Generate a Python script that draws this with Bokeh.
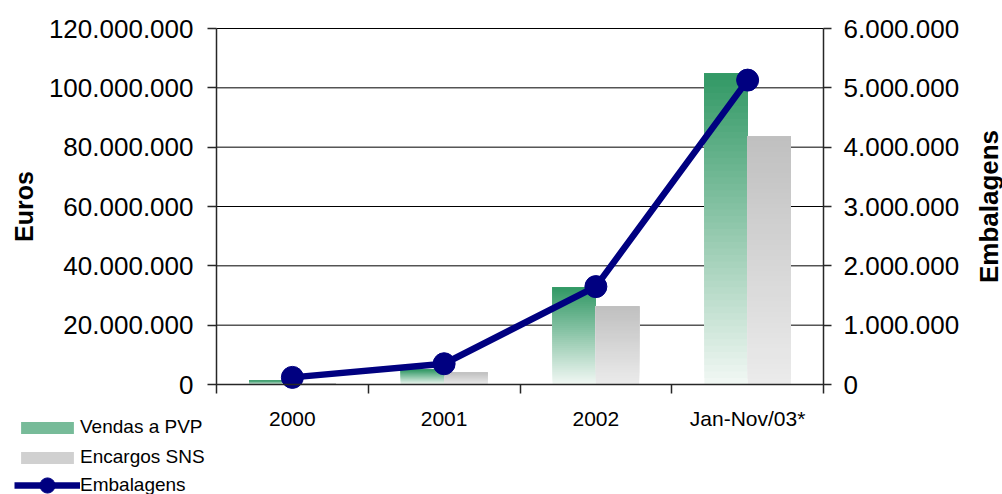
import math
from bokeh.plotting import figure
from bokeh.models import (Range1d, LinearAxis, FixedTicker, ColumnDataSource,
                          Legend, LegendItem, Label)
from bokeh.embed import file_html
from bokeh.resources import INLINE

# ---------------- data ----------------
categories = ["2000", "2001", "2002", "Jan-Nov/03*"]
vendas_pvp = [1.3e6, 5.0e6, 32.7e6, 104.8e6]       # Euros (left axis)
encargos_sns = [0.5e6, 4.0e6, 26.3e6, 83.6e6]      # Euros (left axis)
embalagens = [0.12e6, 0.35e6, 1.65e6, 5.13e6]      # Embalagens (right axis)

euro_ticks = [0, 20e6, 40e6, 60e6, 80e6, 100e6, 120e6]
euro_labels = ["0", "20.000.000", "40.000.000", "60.000.000",
               "80.000.000", "100.000.000", "120.000.000"]
emb_ticks = [0, 1e6, 2e6, 3e6, 4e6, 5e6, 6e6]
emb_labels = ["0", "1.000.000", "2.000.000", "3.000.000",
              "4.000.000", "5.000.000", "6.000.000"]

# ---------------- layout / styles ----------------
W, H = 1002, 494
PLOT_L, PLOT_R, PLOT_T, PLOT_B = 216, 823, 28, 384   # plotting area in canvas px
FONT = "Liberation Sans"
GREEN_TOP, GREEN_BOT = (51, 153, 102), (240, 247, 243)
GRAY_TOP, GRAY_BOT = (192, 192, 192), (235, 235, 235)
NAVY = "#000080"
AXIS_COLOR = "#262626"
BAR_W = 0.285
N_SEG = 48

n = len(categories)
centers = [i + 0.5 for i in range(n)]
euro_max = euro_ticks[-1]
emb_max = emb_ticks[-1]

# the frame covers the whole canvas; axes are pinned at the data edges
xs = (PLOT_R - PLOT_L) / n
ys = (PLOT_B - PLOT_T) / euro_max
x_start, x_end = -PLOT_L / xs, n + (W - PLOT_R) / xs
y_start, y_end = -(H - PLOT_B) / ys, euro_max + PLOT_T / ys
k_emb = emb_max / euro_max


def gradient_source(xpos, vals, c_top, c_bot):
    left, right, bottom, top, color = [], [], [], [], []
    for x, v in zip(xpos, vals):
        for k in range(N_SEG):
            f = k / (N_SEG - 1)
            rgb = tuple(int(round(c_bot[j] + (c_top[j] - c_bot[j]) * f)) for j in range(3))
            left.append(x - BAR_W / 2)
            right.append(x + BAR_W / 2)
            bottom.append(v * k / N_SEG)
            top.append(v)
            color.append("#%02x%02x%02x" % rgb)
    return ColumnDataSource(dict(left=left, right=right, bottom=bottom, top=top, color=color))


p = figure(width=W, height=H,
           x_range=Range1d(x_start, x_end), y_range=Range1d(y_start, y_end),
           output_backend="svg", toolbar_location=None,
           min_border_left=0, min_border_right=0,
           min_border_top=0, min_border_bottom=0)
p.title.visible = False
p.outline_line_color = None
p.background_fill_color = "white"
p.border_fill_color = "white"
p.extra_y_ranges = {"emb": Range1d(y_start * k_emb, y_end * k_emb)}
p.xgrid.visible = False
p.ygrid.visible = False

# horizontal grid lines at the Euro ticks, spanning the category extent
p.segment(x0=[0] * len(euro_ticks), x1=[n] * len(euro_ticks), y0=euro_ticks, y1=euro_ticks,
          line_color="#000000", line_width=1, level="underlay")

# bars with vertical gradient
src_v = gradient_source([c - BAR_W / 2 for c in centers], vendas_pvp, GREEN_TOP, GREEN_BOT)
src_e = gradient_source([c + BAR_W / 2 for c in centers], encargos_sns, GRAY_TOP, GRAY_BOT)
r_v = p.quad(left="left", right="right", bottom="bottom", top="top",
             fill_color="color", line_color=None, source=src_v)
r_e = p.quad(left="left", right="right", bottom="bottom", top="top",
             fill_color="color", line_color=None, source=src_e)

# line on secondary axis
src_l = ColumnDataSource(dict(x=centers, y=embalagens))
r_line = p.line("x", "y", source=src_l, line_color=NAVY, line_width=6.5, y_range_name="emb")
r_pts = p.scatter("x", "y", source=src_l, size=22, fill_color=NAVY, line_color=NAVY,
                  y_range_name="emb")

# x axis
xa = p.xaxis[0]
xa.fixed_location = 0
xa.bounds = (0, n)
xa.ticker = FixedTicker(ticks=centers, minor_ticks=list(range(n + 1)))
xa.major_label_overrides = {c: lab for c, lab in zip(centers, categories)}
xa.major_tick_line_color = None
xa.minor_tick_in = 0
xa.minor_tick_out = 9
xa.minor_tick_line_color = AXIS_COLOR
xa.minor_tick_line_width = 1.5
xa.axis_line_color = AXIS_COLOR
xa.axis_line_width = 1.5
xa.major_label_text_font = FONT
xa.major_label_text_font_size = "21px"
xa.major_label_text_color = "black"
xa.major_label_standoff = 13

# left axis
ya = p.yaxis[0]
ya.fixed_location = 0
ya.bounds = (0, euro_max)
ya.ticker = FixedTicker(ticks=euro_ticks)
ya.major_label_overrides = {t: lab for t, lab in zip(euro_ticks, euro_labels)}
ya.minor_tick_line_color = None
ya.major_tick_in = 0
ya.major_tick_out = 9
ya.major_tick_line_color = AXIS_COLOR
ya.major_tick_line_width = 1.5
ya.axis_line_color = AXIS_COLOR
ya.axis_line_width = 1.5
ya.major_label_text_font = FONT
ya.major_label_text_font_size = "26px"
ya.major_label_text_color = "black"
ya.major_label_standoff = 14
ya.axis_label = "Euros"
ya.axis_label_text_font = FONT
ya.axis_label_text_font_size = "25px"
ya.axis_label_text_font_style = "bold"
ya.axis_label_text_color = "black"
ya.axis_label_standoff = 8

# right axis
ra = LinearAxis(y_range_name="emb", ticker=FixedTicker(ticks=emb_ticks))
ra.fixed_location = n
ra.bounds = (0, emb_max)
ra.major_label_overrides = {t: lab for t, lab in zip(emb_ticks, emb_labels)}
ra.minor_tick_line_color = None
ra.major_tick_in = 0
ra.major_tick_out = 8
ra.major_tick_line_color = AXIS_COLOR
ra.major_tick_line_width = 1.5
ra.axis_line_color = AXIS_COLOR
ra.axis_line_width = 1.5
ra.major_label_text_font = FONT
ra.major_label_text_font_size = "26px"
ra.major_label_text_color = "black"
ra.major_label_standoff = 12
p.add_layout(ra, "right")

# right axis title, reading bottom-to-top, centred on the axis
p.add_layout(Label(x=988, x_units="screen", y=emb_max / 2, y_range_name="emb",
                   text="Embalagens", angle=math.pi / 2, angle_units="rad",
                   text_align="center", text_baseline="middle",
                   text_font=FONT, text_font_size="26px", text_font_style="bold",
                   text_color="black"))

# legends (lower left corner of the canvas)
def style_legend(lg):
    lg.padding = 0
    lg.margin = 0
    lg.border_line_color = None
    lg.background_fill_alpha = 0
    lg.label_standoff = 0
    lg.label_text_font = FONT
    lg.label_text_font_size = "19px"
    lg.label_text_color = "black"
    lg.glyph_width = 66


legend_bars = Legend(items=[
    LegendItem(label="Vendas a PVP", renderers=[r_v], index=30),
    LegendItem(label="Encargos SNS", renderers=[r_e], index=30),
], location=(14, 26))
style_legend(legend_bars)
legend_bars.spacing = 8
legend_bars.glyph_height = 15
legend_bars.label_height = 20
p.add_layout(legend_bars)

legend_line = Legend(items=[
    LegendItem(label="Embalagens", renderers=[r_line, r_pts]),
], location=(14, -10))
style_legend(legend_line)
legend_line.glyph_height = 38
legend_line.label_height = 38
p.add_layout(legend_line)

open("out.html", "w").write(file_html(p, INLINE))
